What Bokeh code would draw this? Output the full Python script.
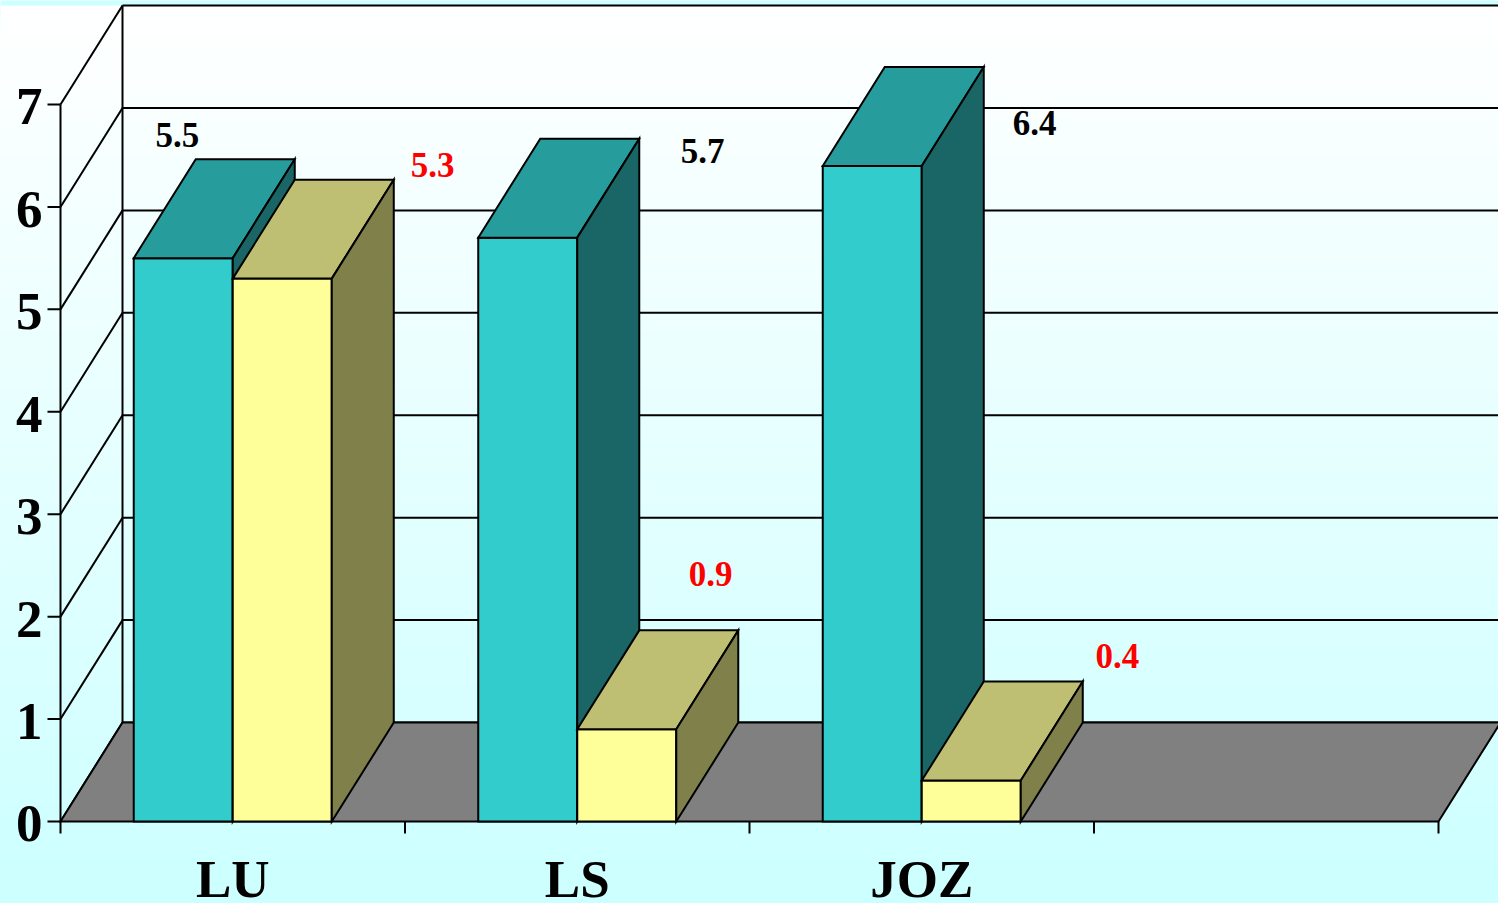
import numpy as np
from bokeh.plotting import figure
from bokeh.models import Range1d
from bokeh.embed import file_html
from bokeh.resources import INLINE
from bokeh.core.properties import value

# ---------------- data ----------------
categories = ["LU", "LS", "JOZ"]
series_a = [5.5, 5.7, 6.4]     # teal bars (black labels)
series_b = [5.3, 0.9, 0.4]     # yellow bars (red labels)
y_ticks = [0, 1, 2, 3, 4, 5, 6, 7]
n_slots = 4                    # category axis has one empty slot at the right
y_max = 7

# label placement offsets (layout, relative to bar front-left / bar value)
label_a_dx = [0.127, 0.651, 0.615]
label_a_dy = [1.080, 0.724, 0.288]
label_b_dx = [0.580, 0.387, 0.568]
label_b_dy = [0.987, 1.385, 1.094]

# ---------------- layout ----------------
W, H = 1498, 903
unit_x = 344.5     # px per category slot
unit_y = 102.43    # px per value unit
left_px = 60
bottom_px = 821
DX = 0.18          # depth offset in slot units
DY = 0.966         # depth offset in value units
BAR_W = 0.2874
BASE_SHIFT = 0.37  # compensation of renderer baseline (em)

FONT = value("Liberation Serif")
FS_VAL = 35
FS_AX = 53

p = figure(width=W, height=H, output_backend="svg", toolbar_location=None,
           x_range=Range1d(-left_px / unit_x, (W - left_px) / unit_x),
           y_range=Range1d(-(H - bottom_px) / unit_y, bottom_px / unit_y),
           x_axis_type=None, y_axis_type=None, min_border=0)
p.grid.visible = False
p.outline_line_color = None
p.background_fill_color = "#CCFFFF"
p.border_fill_color = "#CCFFFF"

# background gradient (white at top of walls -> light cyan at bottom)
top_v = y_max + DY
bot_v = p.y_range.start
n_strips = 160
g_tops = np.linspace(top_v, bot_v, n_strips + 1)[:-1]
g_cols = []
for k in range(n_strips):
    t = k / (n_strips - 1)
    c = int(round(255 - 51 * t))
    g_cols.append("#%02x%02x%02x" % (c, 255, 255))
p.quad(left=p.x_range.start, right=p.x_range.end, top=g_tops,
       bottom=[bot_v] * n_strips, fill_color=g_cols, line_color=None)

# back wall gridlines
p.segment(x0=[DX] * len(y_ticks), y0=[t + DY for t in y_ticks],
          x1=[n_slots + DX] * len(y_ticks), y1=[t + DY for t in y_ticks],
          line_color="black", line_width=2)
# left wall diagonals
p.segment(x0=[0] * len(y_ticks), y0=y_ticks,
          x1=[DX] * len(y_ticks), y1=[t + DY for t in y_ticks],
          line_color="black", line_width=2)
# left wall back edge and front axis line
p.segment(x0=[DX, 0], y0=[DY, 0], x1=[DX, 0], y1=[y_max + DY, y_max],
          line_color="black", line_width=2)

# floor
p.patch(x=[0, n_slots, n_slots + DX, DX], y=[0, 0, DY, DY],
        fill_color="#808080", line_color="black", line_width=2, line_join="miter")

# bars
face_cols_a = ("#33CCCC", "#279C9C", "#1A6666")
face_cols_b = ("#FFFF99", "#BFBF73", "#80804A")
xs, ys, fc = [], [], []
for i in range(len(categories)):
    for vals, cols, off in ((series_a, face_cols_a, -BAR_W), (series_b, face_cols_b, 0.0)):
        v = vals[i]
        l = i + 0.5 + off
        r = l + BAR_W
        xs.append([l, r, r, l]); ys.append([0, 0, v, v]); fc.append(cols[0])
        xs.append([l, r, r + DX, l + DX]); ys.append([v, v, v + DY, v + DY]); fc.append(cols[1])
        xs.append([r, r + DX, r + DX, r]); ys.append([0, DY, v + DY, v]); fc.append(cols[2])
p.patches(xs=xs, ys=ys, fill_color=fc, line_color="black", line_width=2, line_join="miter")

# value labels
val_shift = BASE_SHIFT * FS_VAL / unit_y
p.text(x=[i + 0.5 - BAR_W + label_a_dx[i] for i in range(len(categories))],
       y=[series_a[i] + label_a_dy[i] + val_shift for i in range(len(categories))],
       text=["%.1f" % v for v in series_a], text_align="center", text_baseline="alphabetic",
       text_font=FONT, text_font_style="bold", text_font_size="%dpx" % FS_VAL, text_color="black")
p.text(x=[i + 0.5 + label_b_dx[i] for i in range(len(categories))],
       y=[series_b[i] + label_b_dy[i] + val_shift for i in range(len(categories))],
       text=["%.1f" % v for v in series_b], text_align="center", text_baseline="alphabetic",
       text_font=FONT, text_font_style="bold", text_font_size="%dpx" % FS_VAL, text_color="#FF0000")

# y axis ticks + labels
ax_shift = BASE_SHIFT * FS_AX
p.segment(x0=[-13 / unit_x] * len(y_ticks), y0=y_ticks, x1=[0] * len(y_ticks), y1=y_ticks,
          line_color="black", line_width=2)
p.text(x=[-18 / unit_x] * len(y_ticks), y=[t - (22 - ax_shift) / unit_y for t in y_ticks],
       text=[str(t) for t in y_ticks], text_align="right", text_baseline="alphabetic",
       text_font=FONT, text_font_style="bold", text_font_size="%dpx" % FS_AX, text_color="black")

# category ticks + labels
p.segment(x0=list(range(n_slots + 1)), y0=[0] * (n_slots + 1),
          x1=list(range(n_slots + 1)), y1=[-12 / unit_y] * (n_slots + 1),
          line_color="black", line_width=2)
p.text(x=[i + 0.5 for i in range(len(categories))], y=[-(77 - ax_shift) / unit_y] * len(categories),
       text=categories, text_align="center", text_baseline="alphabetic",
       text_font=FONT, text_font_style="bold", text_font_size="%dpx" % FS_AX, text_color="black")

open("out.html", "w").write(file_html(p, INLINE))
